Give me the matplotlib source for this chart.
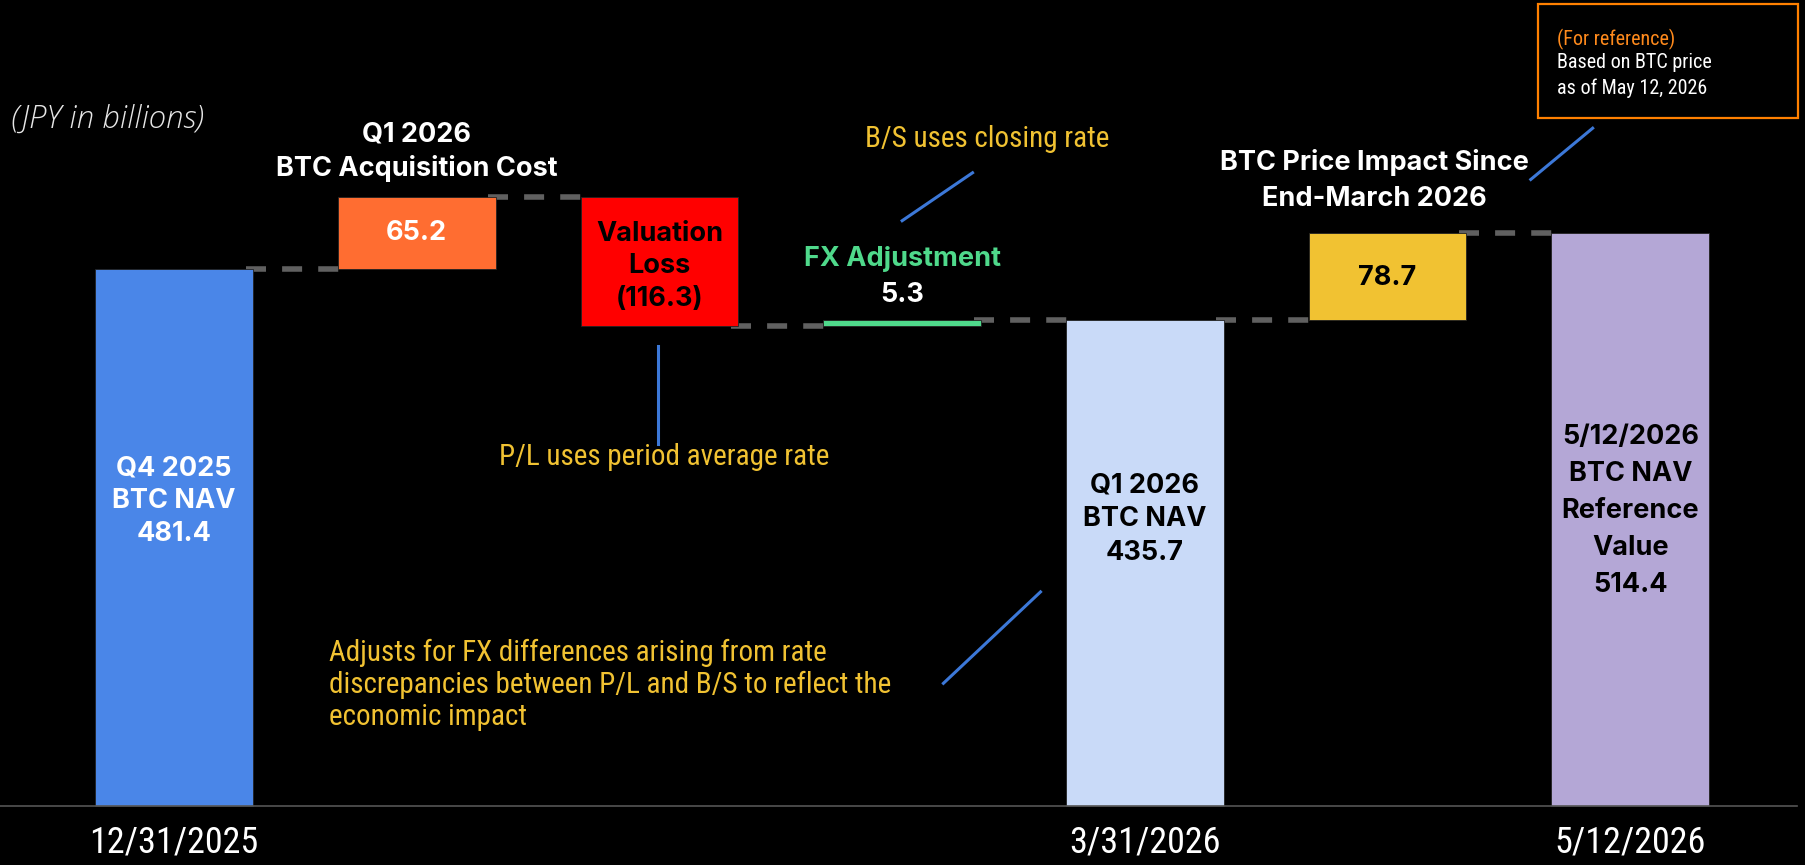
import numpy as np
import matplotlib.pyplot as plt
from matplotlib import font_manager

# --- data (JPY in billions) ---
steps = ["Q4 2025 NAV", "Acquisition", "Valuation loss", "FX adj", "Q1 2026 NAV", "Price impact", "5/12 NAV"]
totals = {0: 481.4, 4: 435.7, 6: 514.4}
deltas = {1: 65.2, 2: -116.3, 3: 5.3, 5: 78.7}
bar_colors = ["#4a86e8", "#ff6d31", "#ff0000", "#4fd98b", "#c9daf8", "#f1c232", "#b4a7d6"]
date_labels = {0: "12/31/2025", 4: "3/31/2026", 6: "5/12/2026"}

names = {f.name for f in font_manager.fontManager.ttflist}


def pick(*cands):
    for c in cands:
        if c in names:
            return c
    return "DejaVu Sans"


bold_font = pick("Inter", "Roboto", "Lato")
narrow = pick("Liberation Sans Narrow", "Roboto Condensed", "Noto Sans Condensed",
              "Open Sans Condensed", "DejaVu Sans Condensed", "Liberation Sans")
is_narrow = narrow != "Liberation Sans"

# compute waterfall bottoms / heights
bottoms, heights, ends = [], [], []
level = 0.0
for i in range(len(steps)):
    if i in totals:
        level = totals[i]
        bottoms.append(0.0)
        heights.append(level)
    else:
        d = deltas[i]
        bottoms.append(level if d >= 0 else level + d)
        heights.append(abs(d))
        level += d
    ends.append(level)

fig = plt.figure(figsize=(18.06, 8.65), dpi=100, facecolor="black")
ax = fig.add_axes([0, 0, 1, 1])
ax.set_facecolor("black")
ax.set_xlim(-0.717, 6.724)
ax.set_ylim(-53, 723)
ax.axis("off")

x = np.arange(len(steps))
w = 0.65
ax.bar(x, heights, width=w, bottom=bottoms, color=bar_colors, zorder=3,
       edgecolor="#222222", linewidth=0.6)

# dashed connectors between bars
for i in range(len(steps) - 1):
    ax.plot([x[i] + w / 2 - 0.03, x[i + 1] - w / 2 + 0.03], [ends[i], ends[i]],
            color="#606060", lw=4.0, dashes=(3.6, 2.9), zorder=2,
            dash_capstyle="butt")

# baseline
ax.axhline(0, color="#555555", lw=1.2, xmax=0.995, zorder=4)

# date labels
date_size = 26 if is_narrow else 24
for i, lab in date_labels.items():
    ax.text(x[i], -33, lab, ha="center", va="center", color="white",
            fontsize=date_size, family=narrow)

# bar texts
bs = 19.5
bkw = dict(ha="center", va="center", family=bold_font, fontweight="bold", zorder=5)
ax.text(x[0], 273.5, "Q4 2025\nBTC NAV\n481.4", color="white", fontsize=bs,
        linespacing=1.35, **bkw)
ax.text(x[1], 514, f"{deltas[1]:.1f}", color="white", fontsize=bs, **bkw)
ax.text(x[1], 586.5, "Q1 2026\nBTC Acquisition Cost", color="white", fontsize=bs,
        linespacing=1.35, **bkw)
ax.text(x[2], 484, f"Valuation\nLoss\n({-deltas[2]:.1f})", color="black",
        fontsize=bs, linespacing=1.33, **bkw)
ax.text(x[3], 491, "FX Adjustment", color="#4fd98b", fontsize=bs, **bkw)
ax.text(x[3], 458, f"{deltas[3]:.1f}", color="white", fontsize=bs, **bkw)
ax.text(x[4], 257, "Q1 2026\nBTC NAV\n435.7", color="black", fontsize=bs,
        linespacing=1.38, **bkw)
ax.text(x[5], 474, f"{deltas[5]:.1f}", color="black", fontsize=bs, **bkw)
ax.text(x[5] - 0.055, 561, "BTC Price Impact Since\nEnd-March 2026", color="white",
        fontsize=bs, linespacing=1.5, **bkw)
ax.text(x[6], 264.5, "5/12/2026\nBTC NAV\nReference\nValue\n514.4", color="black",
        fontsize=bs, linespacing=1.55, **bkw)

# unit note
ax.text(-0.67, 616, "(JPY in billions)", color="#e6e6e6", fontsize=22.5,
        style="italic", fontweight="light", family="Open Sans",
        ha="left", va="center")

# yellow notes + blue pointer lines
ykw = dict(color="#f1c232", family=narrow, fontsize=21, zorder=5)
ax.text(3.35, 598, "B/S uses closing rate", ha="center", va="center", **ykw)
ax.plot([3.0, 3.29], [525, 568], color="#3c78d8", lw=2.2)
ax.text(2.02, 313, "P/L uses period average rate", ha="center", va="center", **ykw)
ax.plot([1.996, 1.996], [413, 325], color="#3c78d8", lw=2.2)
ax.text(0.64, 108.5, "Adjusts for FX differences arising from rate\n"
        "discrepancies between P/L and B/S to reflect the\neconomic impact",
        ha="left", va="center", linespacing=1.17, **ykw)
ax.plot([3.17, 3.57], [110, 192], color="#3c78d8", lw=2.2)

# reference box
ax.text(5.7, 688, "(For reference)", color="#ff8a1c", family=narrow, fontsize=14.5,
        ha="left", va="center")
ax.text(5.7, 655, "Based on BTC price\nas of May 12, 2026", color="white",
        family=narrow, fontsize=14.5, ha="left", va="center", linespacing=1.4)
ax.add_patch(plt.Rectangle((5.62, 617), 1.07, 102, fill=False, edgecolor="#ff8000",
                           lw=1.6, zorder=5))
ax.plot([5.59, 5.845], [562, 608], color="#3c78d8", lw=2.2)

fig.savefig("out.png", dpi=100, facecolor="black")
